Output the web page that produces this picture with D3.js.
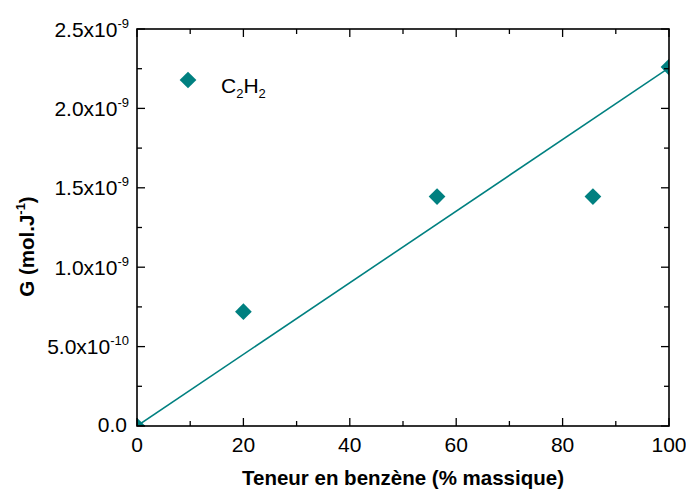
<!DOCTYPE html>
<html><head><meta charset="utf-8">
<script src="https://cdn.jsdelivr.net/npm/d3@7"></script>
<style>body{margin:0;background:#fff}svg{display:block}text{font-family:Arial,"Liberation Sans",sans-serif;fill:#000}</style>
</head><body><svg id="c" width="686" height="490"></svg>
<script>
const benzene = [0, 20, 56.4, 85.7, 100];
const gValues = [0, 7.2e-10, 1.445e-9, 1.445e-9, 2.26e-9];
const fitX = [0, 100];
const fitY = [0, 2.255e-9];
const xTicks = [0, 20, 40, 60, 80, 100];
const yTicks = [0, 5e-10, 1e-9, 1.5e-9, 2e-9, 2.5e-9];
const yTickMant = ["0.0", "5.0x10", "1.0x10", "1.5x10", "2.0x10", "2.5x10"];
const yTickExp = ["", "-10", "-9", "-9", "-9", "-9"];
const seriesName = ["C", "2", "H", "2"];

const m = {l: 137, r: 669, t: 29, b: 426};
const svg = d3.select("#c");
const x = d3.scaleLinear().domain([0, 100]).range([m.l, m.r]);
const y = d3.scaleLinear().domain([0, 2.5e-9]).range([m.b, m.t]);
const teal = "#008080";
const FS = 21, SS = 13;

svg.append("defs").append("clipPath").attr("id", "clip")
  .append("rect").attr("x", m.l).attr("y", m.t).attr("width", m.r - m.l).attr("height", m.b - m.t);

svg.append("g").attr("clip-path", "url(#clip)").append("path")
  .datum(fitX.map((v, i) => [v, fitY[i]]))
  .attr("d", d3.line().x(d => x(d[0])).y(d => y(d[1])))
  .attr("fill", "none").attr("stroke", teal).attr("stroke-width", 1.6);

const sq = d3.symbol().type(d3.symbolSquare).size(140);
svg.append("g").attr("clip-path", "url(#clip)").selectAll("path.pt")
  .data(benzene.map((v, i) => [v, gValues[i]])).join("path")
  .attr("d", sq)
  .attr("transform", d => `translate(${x(d[0])},${y(d[1])}) rotate(45)`)
  .attr("fill", teal);

svg.append("rect").attr("x", m.l).attr("y", m.t).attr("width", m.r - m.l).attr("height", m.b - m.t)
  .attr("fill", "none").attr("stroke", "#000").attr("stroke-width", 1.6);

const xMinor = d3.range(0, 101, 10);
const yMinor = d3.range(0, 2.5e-9 + 1e-12, 2.5e-10);
const tg = svg.append("g").attr("stroke", "#000").attr("stroke-width", 1.3);
xMinor.forEach(v => {
  const major = Math.round(v) % 20 === 0;
  const len = major ? 8 : 5;
  tg.append("line").attr("x1", x(v)).attr("x2", x(v)).attr("y1", m.b).attr("y2", m.b - len);
  tg.append("line").attr("x1", x(v)).attr("x2", x(v)).attr("y1", m.t).attr("y2", m.t + len);
});
yMinor.forEach((v, i) => {
  const major = i % 2 === 0;
  const len = major ? 8 : 5;
  tg.append("line").attr("y1", y(v)).attr("y2", y(v)).attr("x1", m.l).attr("x2", m.l + len);
  tg.append("line").attr("y1", y(v)).attr("y2", y(v)).attr("x1", m.r).attr("x2", m.r - len);
});

svg.append("g").selectAll("text").data(xTicks).join("text")
  .attr("x", d => x(d)).attr("y", m.b + 26).attr("text-anchor", "middle")
  .attr("font-size", FS).text(d => d);

yTicks.forEach((v, i) => {
  const t = svg.append("text").attr("y", y(v) + (yTickExp[i] ? 7.5 : 5.5)).attr("font-size", FS)
    .attr("x", yTickExp[i] ? m.l - 8 : m.l - 10).attr("text-anchor", "end");
  t.append("tspan").text(yTickMant[i]);
  if (yTickExp[i]) t.append("tspan").attr("font-size", SS).attr("dy", -9).text(yTickExp[i]);
});

svg.append("text").attr("x", (m.l + m.r) / 2 + 0).attr("y", 485).attr("text-anchor", "middle")
  .attr("font-size", 20.5).attr("font-weight", "bold").text("Teneur en benzène (% massique)");
const yt = svg.append("text").attr("transform", `translate(34,${(m.t + m.b) / 2 + 19}) rotate(-90)`)
  .attr("text-anchor", "middle").attr("font-size", 20.5).attr("font-weight", "bold");
yt.append("tspan").text("G (mol.J");
yt.append("tspan").attr("font-size", SS).attr("dy", -9).text("-1");
yt.append("tspan").attr("dy", 9).text(")");

svg.append("path").attr("d", sq).attr("transform", "translate(188,80) rotate(45)").attr("fill", teal);
const lt = svg.append("text").attr("x", 221).attr("y", 93).attr("font-size", FS);
lt.append("tspan").text(seriesName[0]);
lt.append("tspan").attr("font-size", SS).attr("dy", 5).text(seriesName[1]);
lt.append("tspan").attr("dy", -5).text(seriesName[2]);
lt.append("tspan").attr("font-size", SS).attr("dy", 5).text(seriesName[3]);
</script></body></html>
